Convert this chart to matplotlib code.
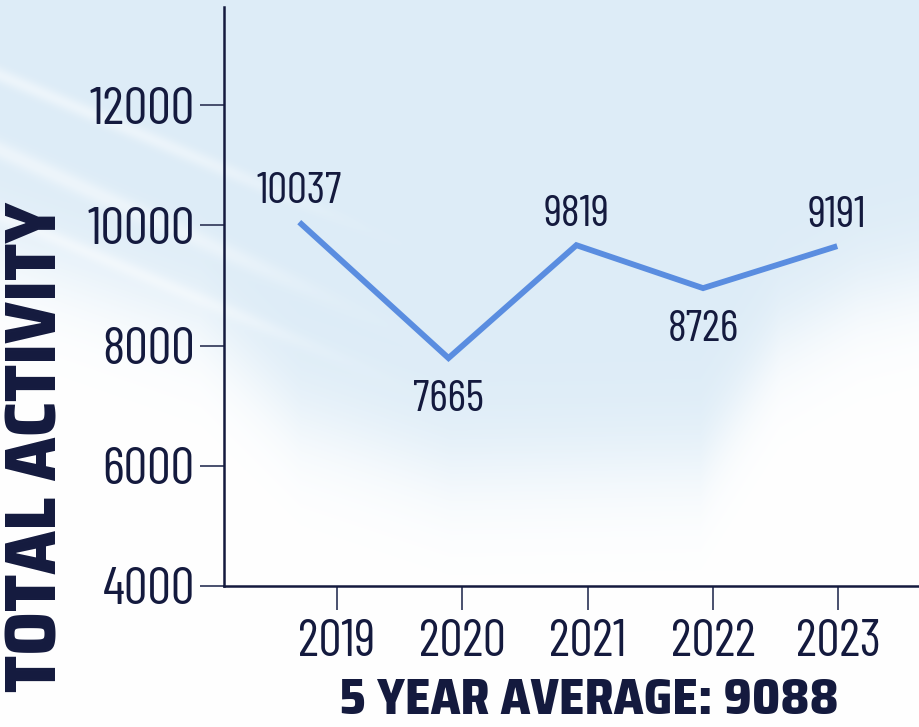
import numpy as np
import matplotlib
matplotlib.use("Agg")
import matplotlib.pyplot as plt

# data
years = [2019, 2020, 2021, 2022, 2023]
x_pos = [2018.70, 2019.89, 2020.91, 2021.92, 2022.99]   # where the line vertices sit
activity = [10054, 7792, 9671, 8956, 9655]             # where the line vertices sit
point_labels = ["10037", "7665", "9819", "8726", "9191"]
label_above = [True, False, True, False, True]
y_ticks = [4000, 6000, 8000, 10000, 12000]
y_title = "TOTAL ACTIVITY"
avg_text = "5 YEAR AVERAGE: 9088"

NUM_FONT = ["Barlow Condensed", "DejaVu Sans"]
TITLE_FONT = ["Saira SemiCondensed", "DejaVu Sans"]
NAVY = "#141a3e"
LINE = "#5a8de0"

fig = plt.figure(figsize=(9.2, 7.27), dpi=100)

# soft watercolour wash behind the chart
bg = fig.add_axes([0, 0, 1, 1], zorder=-10)
W, H = 920, 727
xx, yy = np.meshgrid(np.arange(W), np.arange(H))
bound = np.interp(xx, [0, 200, 300, 450, 700, 780, 860, 920],
                  [250, 320, 420, 470, 465, 340, 295, 280])
a = 1 / (1 + np.exp(-(bound - yy) / 30.0))
# pale diagonal streaks fading out towards the middle
fade = 1 / (1 + np.exp((xx - 280) / 45.0))
for y0, slope, w in [(75, 0.42, 8), (150, 0.45, 10), (215, 0.42, 8)]:
    d = yy - (y0 + slope * xx)
    a = a * (1 - 0.45 * np.exp(-(d / w) ** 2) * fade)
img = np.ones((H, W, 3))
wash = np.array([221, 236, 247]) / 255.0
for c in range(3):
    img[..., c] = 1 - a * (1 - wash[c])
bg.imshow(img, aspect="auto", extent=[0, W, H, 0])
bg.axis("off")

ax = fig.add_axes([0.2435, 0.194, 0.7565, 0.796])
ax.patch.set_alpha(0)
ax.plot(x_pos, activity, color=LINE, lw=4.2, solid_joinstyle="miter", solid_capstyle="butt")

for x, v, t, up in zip(x_pos, activity, point_labels, label_above):
    ax.annotate(t, (x, v), xytext=(0, 7 if up else -16), textcoords="offset points",
                ha="center", va="bottom" if up else "top",
                fontsize=32, color=NAVY, family=NUM_FONT)

ax.set_xlim(2018.10, 2023.65)
ax.set_ylim(4000, 13630)
ax.set_xticks(years)
ax.set_yticks(y_ticks)
ax.set_xticklabels([str(y) for y in years], fontsize=37, color=NAVY, family=NUM_FONT)
ax.set_yticklabels([str(y) for y in y_ticks], fontsize=38, color=NAVY, family=NUM_FONT)
ax.tick_params(axis="both", length=17, width=1.3, color="#3b4262")
ax.tick_params(axis="y", pad=4)
ax.tick_params(axis="x", pad=7)

for s in ["top", "right"]:
    ax.spines[s].set_visible(False)
for s in ["left", "bottom"]:
    ax.spines[s].set_color(NAVY)
    ax.spines[s].set_linewidth(1.8)

fig.text(37 / W, 1 - 447 / H, y_title, rotation=90, ha="center", va="center",
         fontsize=52, fontweight="heavy", color=NAVY, family=TITLE_FONT)
fig.text(589 / W, 1 - 700 / H, avg_text, ha="center", va="center",
         fontsize=35.5, fontweight="heavy", color=NAVY, family=TITLE_FONT)

fig.savefig("out.png", dpi=100)
